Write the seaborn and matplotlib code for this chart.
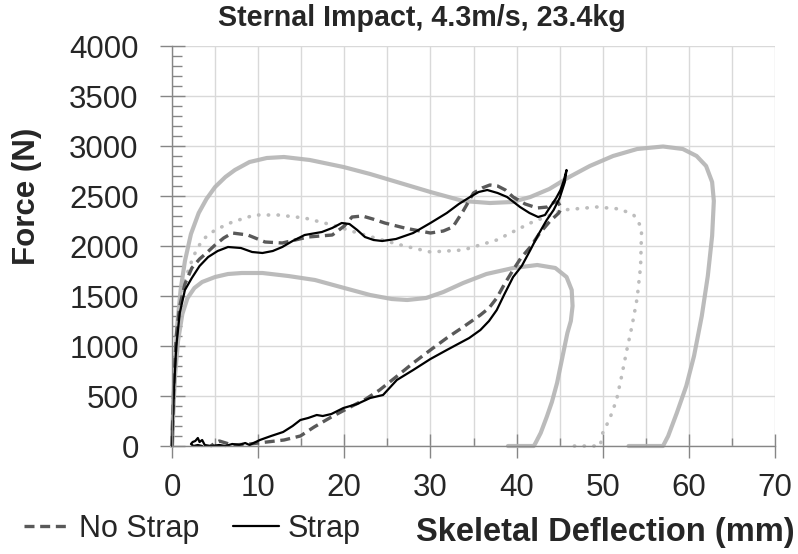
import numpy as np
import pandas as pd
import matplotlib
matplotlib.use("Agg")
import matplotlib.pyplot as plt
from matplotlib.ticker import MultipleLocator
import seaborn as sns

# corridor upper bound (solid light grey)
upper_x = [0, 0.15, 0.3, 0.6, 1.0, 1.5, 2.2, 3.1, 4.0, 5.0, 6.2, 7.3, 9.0, 11.0, 13.0,
           16.0, 19.9, 23.0, 26.5, 30.0, 33.8, 36.9, 39.5, 41.6, 43.8, 45.9, 48.5, 51.2,
           54.0, 57.0, 59.3, 60.9, 62.0, 62.7, 62.9, 62.7, 62.2, 61.5, 60.6, 59.7, 58.6,
           57.6, 57.0, 53.0]
upper_y = [0, 400, 750, 1200, 1560, 1850, 2120, 2330, 2470, 2590, 2690, 2760, 2840, 2880,
           2890, 2860, 2790, 2720, 2630, 2540, 2450, 2430, 2440, 2490, 2570, 2680, 2800,
           2900, 2970, 2995, 2970, 2900, 2800, 2640, 2450, 2100, 1700, 1300, 900, 600, 330,
           100, 0, 0]

# corridor lower bound
lower_x = [0, 0.15, 0.35, 0.7, 1.2, 1.8, 2.6, 3.5, 5.0, 6.5, 8.1, 10.5, 13.5, 16.6, 20.0,
           23.0, 25.5, 27.3, 29.5, 31.5, 33.8, 36.5, 39.6, 42.4, 44.5, 45.8, 46.4, 46.5,
           46.3, 45.9, 45.3, 44.7, 44.1, 43.5, 42.8, 42.2, 42.0, 39.0]
lower_y = [0, 350, 700, 1050, 1320, 1480, 1580, 1640, 1690, 1720, 1730, 1730, 1700, 1660,
           1580, 1510, 1470, 1460, 1480, 1540, 1630, 1720, 1780, 1810, 1780, 1690, 1560,
           1400, 1250, 1130, 880, 630, 440, 290, 130, 30, 0, 0]

# corridor mean (dotted)
mean_x = [0, 0.15, 0.3, 0.6, 1.0, 1.5, 2.5, 3.5, 5.0, 7.0, 9.6, 12.3, 15.4, 18.6, 21.2,
          24.4, 27.0, 30.0, 33.8, 37.7, 41.6, 45.4, 49.3, 52.0, 53.6, 54.4, 54.5, 54.4,
          54.0, 53.4, 52.8, 52.2, 51.6, 50.8, 50.0, 49.7, 46.6]
mean_y = [0, 380, 700, 1100, 1400, 1660, 1900, 2060, 2160, 2240, 2310, 2310, 2280, 2210,
          2140, 2060, 2000, 1940, 1960, 2060, 2230, 2360, 2390, 2370, 2310, 2200, 2130,
          1800, 1480, 1200, 960, 700, 460, 270, 130, 0, 0]

# No Strap test (dashed)
nostrap_x = [0, 0.1, 0.25, 0.5, 0.9, 1.5, 2.3, 3.2, 4.0, 5.0, 6.0, 7.0, 8.8, 10.8, 12.8,
             15.8, 18.6, 20.0, 20.9, 22.1, 23.3, 24.7, 27.0, 30.0, 31.5, 32.6, 33.8, 35.0,
             36.0, 36.9, 37.8, 38.7, 39.6, 41.0, 42.4, 43.6, 44.4, 44.8, 45.2,
             44.9, 43.9, 42.7, 41.6, 40.5, 39.6, 38.6, 37.7, 36.8, 35.8, 33.8, 31.9, 30.0,
             28.0, 26.0, 24.1, 22.5, 20.7, 18.5, 16.5, 14.9, 13.0, 11.0, 9.0, 7.0, 5.5,
             5.0, 4.5]
nostrap_y = [0, 300, 700, 1100, 1400, 1620, 1780, 1870, 1930, 2010, 2080, 2130, 2110, 2040,
             2030, 2090, 2110, 2200, 2290, 2300, 2270, 2230, 2180, 2130, 2150, 2190, 2350,
             2530, 2580, 2610, 2600, 2560, 2490, 2420, 2380, 2390, 2440, 2440, 2380,
             2330, 2250, 2130, 1990, 1880, 1760, 1620, 1480, 1380, 1310, 1190, 1080, 960,
             830, 690, 560, 470, 390, 290, 190, 100, 60, 40, 20, 10, 50, 30, 0]

# Strap test (solid black)
strap_x = [0, 0.1, 0.25, 0.5, 0.9, 1.5, 2.3, 3.2, 4.2, 5.3, 6.5, 8.0, 9.3, 10.5, 11.7,
           12.8, 14.0, 15.4, 17.4, 18.6, 19.7, 20.6, 21.5, 22.4, 23.4, 24.4, 26.0, 28.0,
           30.0, 31.9, 33.3, 34.6, 35.6, 36.6, 37.8, 38.9, 40.4, 41.5, 42.5, 43.3, 43.9,
           44.6, 45.1, 45.5, 45.8,
           45.6, 45.0, 44.3, 43.5, 42.5, 41.6, 40.6, 39.6, 38.6, 37.7, 36.8, 35.8, 34.5,
           33.2, 31.9, 30.0, 28.0, 26.1, 24.5, 23.0, 21.5, 19.9, 18.5, 17.5, 16.8, 15.8,
           14.9, 14.0, 12.9, 11.5, 10.2, 9.0, 8.5, 7.8, 7.0, 6.2, 5.5, 4.5, 3.8, 3.5, 3.2,
           3.0, 2.7, 2.4, 2.2, 2.5, 3.0, 3.5]
strap_y = [0, 250, 600, 1000, 1330, 1560, 1680, 1800, 1890, 1950, 1990, 1980, 1940, 1930,
           1950, 1990, 2050, 2110, 2140, 2180, 2230, 2220, 2160, 2090, 2060, 2050, 2070,
           2130, 2230, 2330, 2420, 2490, 2540, 2560, 2530, 2490, 2390, 2330, 2290, 2310,
           2390, 2480, 2560, 2660, 2760,
           2640, 2480, 2360, 2260, 2110, 1960, 1800, 1690, 1520, 1360, 1250, 1160, 1080,
           1020, 960, 870, 760, 660, 510, 480, 420, 380, 320, 300, 310, 280, 260, 200, 140,
           100, 60, 10, 30, 10, 20, 0, 10, 0, 10, 60, 40, 80, 50, 40, 20, 0, 10, 0]

sns.set_theme(style="white")
plt.rcParams['font.family'] = ['Liberation Sans', 'DejaVu Sans']

fig = plt.figure(figsize=(7.98, 5.54), dpi=100)
ax = fig.add_axes([172 / 798, 1 - 446 / 554, 603 / 798, 400 / 554])

grey = '#b4b4b4'
sns.lineplot(x=upper_x, y=upper_y, sort=False, estimator=None, ax=ax, color=grey,
             linewidth=3, alpha=0.9, clip_on=False)
sns.lineplot(x=lower_x, y=lower_y, sort=False, estimator=None, ax=ax, color=grey,
             linewidth=3, alpha=0.9, clip_on=False)
sns.lineplot(x=mean_x, y=mean_y, sort=False, estimator=None, ax=ax, color='#bdbdbd',
             linewidth=2.6, linestyle=(0, (0.1, 2.6)), dash_capstyle='round', clip_on=False)
sns.lineplot(x=nostrap_x, y=nostrap_y, sort=False, estimator=None, ax=ax, color='#595959',
             linewidth=2.4, linestyle=(0, (3, 1.7)), label='No Strap', clip_on=False)
sns.lineplot(x=strap_x, y=strap_y, sort=False, estimator=None, ax=ax, color='black',
             linewidth=1.6, label='Strap', clip_on=False)

ax.set_xlim(0, 70)
ax.set_ylim(0, 4000)
ax.set_xticks(range(0, 71, 10))
ax.set_yticks(range(0, 4001, 500))
ax.xaxis.set_minor_locator(MultipleLocator(5))
ax.yaxis.set_minor_locator(MultipleLocator(100))
ax.grid(which='both', axis='x', color='#d9d9d9', linewidth=1)
ax.grid(which='major', axis='y', color='#d9d9d9', linewidth=1)
ax.set_axisbelow(True)

for s in ['top', 'right']:
    ax.spines[s].set_visible(False)
for s in ['left', 'bottom']:
    ax.spines[s].set_color('#868686')
    ax.spines[s].set_linewidth(1)

ax.tick_params(axis='y', which='major', direction='inout', length=18, width=1,
               color='#868686', labelsize=22.5, pad=15, left=True)
ax.tick_params(axis='y', which='minor', direction='in', length=7, width=1,
               color='#868686', left=True)
ax.tick_params(axis='x', which='major', direction='inout', length=17, width=1,
               color='#868686', labelsize=22.5, pad=11, bottom=True)
ax.tick_params(axis='x', which='minor', direction='in', length=6, width=1,
               color='#868686', bottom=True)

ax.set_ylabel('Force (N)', fontsize=22.5, fontweight='bold')
ax.yaxis.set_label_coords(-0.216, 0.625)
ax.set_xlabel('Skeletal Deflection (mm)', fontsize=23.5, fontweight='bold')
ax.xaxis.set_label_coords(0.718, -0.178)

fig.text(0.529, 0.967, 'Sternal Impact, 4.3m/s, 23.4kg', fontsize=20.6, fontweight='bold',
         ha='center', va='center')

handles, labels = ax.get_legend_handles_labels()
if ax.get_legend() is not None:
    ax.get_legend().remove()
fig.legend(handles, labels, loc='center left', bbox_to_anchor=(0.03, 0.045), ncol=2,
           frameon=False, fontsize=22, handlelength=1.5, handletextpad=0.3,
           columnspacing=1.1, borderaxespad=0, borderpad=0)

fig.savefig('out.png', dpi=100)
